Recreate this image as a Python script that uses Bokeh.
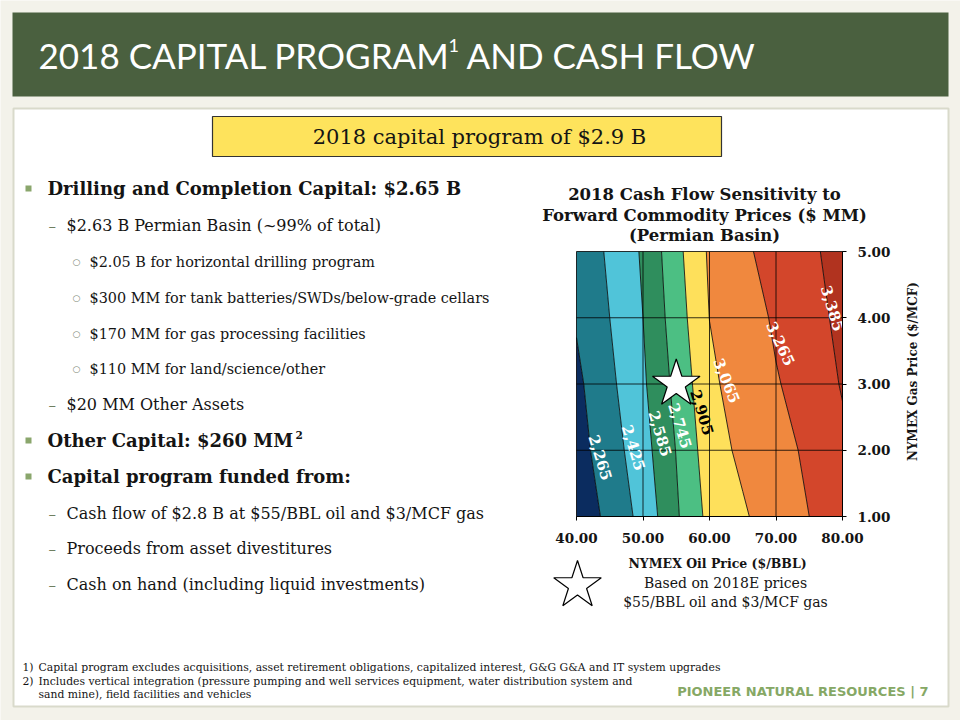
import math
import numpy as np
from bokeh.plotting import figure
from bokeh.plotting.contour import contour_data
from bokeh.models import (Range1d, Label, LinearAxis, FixedTicker, PrintfTickFormatter,
                          ColumnDataSource)
from bokeh.core.properties import value
from bokeh.embed import file_html
from bokeh.resources import INLINE

# ---------------- data ----------------
oil_price = [40, 45, 50, 55, 60, 65, 70, 75, 80]          # $/BBL
gas_price = [1, 2, 3, 4, 5]                               # $/MCF
cash_flow_gas1 = [2157, 2307, 2475, 2724, 2950, 3043, 3154, 3265, 3330]
cash_flow_gas2 = [2204, 2349, 2523, 2750, 2990, 3101, 3215, 3290, 3365]
cash_flow_gas3 = [2230, 2390, 2561, 2788, 3028, 3147, 3254, 3328, 3392]
cash_flow_gas4 = [2280, 2425, 2585, 2825, 3067, 3188, 3287, 3348, 3409]
cash_flow_gas5 = [2306, 2451, 2604, 2857, 3087, 3245, 3307, 3365, 3425]

contour_levels = [2100, 2265, 2425, 2585, 2745, 2905, 3065, 3265, 3385, 3500]
band_colors = ["#0b2c5f", "#1f7b8b", "#50c4d9", "#2f8e5d", "#4cbf83",
               "#fee05b", "#f0883e", "#d3462b", "#b1331f"]

contour_label_text = ["2,265", "2,425", "2,585", "2,745", "2,905", "3,065", "3,265", "3,385"]
contour_label_oil = [43.6, 48.6, 52.6, 55.6, 58.9, 62.6, 70.7, 78.5]
contour_label_gas = [1.89, 2.04, 2.25, 2.37, 2.57, 3.05, 3.61, 4.14]
contour_label_angle = [-73, -73, -73, -73, -73, -68, -65, -73]
contour_label_color = ["white", "white", "white", "white", "black", "white", "white", "white"]

base_case_oil = [55]
base_case_gas = [3]

oil_ticks = [40, 50, 60, 70, 80]
gas_ticks = [1, 2, 3, 4, 5]

bullets_main = [
    ("sq", "Drilling and Completion Capital: $2.65 B", 188),
    ("dash", "$2.63 B Permian Basin (~99% of total)", 225),
    ("circ", "$2.05 B for horizontal drilling program", 261),
    ("circ", "$300 MM for tank batteries/SWDs/below-grade cellars", 297),
    ("circ", "$170 MM for gas processing facilities", 333),
    ("circ", "$110 MM for land/science/other", 368),
    ("dash", "$20 MM Other Assets", 404),
    ("sq", "Other Capital: $260 MM", 440),
    ("sq", "Capital program funded from:", 476),
    ("dash", "Cash flow of $2.8 B at $55/BBL oil and $3/MCF gas", 513),
    ("dash", "Proceeds from asset divestitures", 548),
    ("dash", "Cash on hand (including liquid investments)", 584),
]

# ---------------- layout ----------------
W, H = 960, 720
CH_L, CH_R, CH_T, CH_B = 576, 842, 251, 516   # chart box on the page (px)

p = figure(width=W, height=H, x_range=Range1d(0, W), y_range=Range1d(H, 0),
           output_backend="svg", toolbar_location=None, title=None,
           x_axis_location=None, y_axis_location=None, min_border=0)
p.outline_line_color = None
p.background_fill_color = "#f3f2ea"
p.border_fill_color = "#f3f2ea"
for g in p.grid:
    g.visible = False

# extra ranges so that the oil / gas scales land on the chart box
ox0, ox1 = oil_ticks[0], oil_ticks[-1]
gy0, gy1 = gas_ticks[0], gas_ticks[-1]
kx = (ox1 - ox0) / (CH_R - CH_L)
ky = (gy1 - gy0) / (CH_B - CH_T)
p.extra_x_ranges = {"oil": Range1d(ox0 - CH_L * kx, ox1 + (W - CH_R) * kx)}
p.extra_y_ranges = {"gas": Range1d(gy0 - (H - CH_B) * ky, gy1 + CH_T * ky)}
RN = dict(x_range_name="oil", y_range_name="gas")

SERIF = "DejaVu Serif"


def txt(s, px, py, size, bold=False, font=SERIF, color="#141414", align="left",
        angle=0, baseline="middle"):
    p.add_layout(Label(x=px, y=py, text=s, text_font=font, text_font_size=f"{size}px",
                       text_font_style="bold" if bold else "normal",
                       text_color=color, text_align=align, text_baseline=baseline,
                       angle=angle, angle_units="deg"))


# slide backgrounds
p.quad(left=13, right=948, top=108, bottom=706, fill_color="white",
       line_color="#d9dacb", line_width=2)
p.quad(left=12, right=948, top=12, bottom=96, fill_color="#4a603f", line_color=None)
p.quad(left=212, right=721, top=116, bottom=156, fill_color="#fee35c",
       line_color="#333333", line_width=1.2)

# contour chart
z = np.array([cash_flow_gas1, cash_flow_gas2, cash_flow_gas3, cash_flow_gas4, cash_flow_gas5])
cd = contour_data(oil_price, gas_price, z, contour_levels)
p.multi_polygons(xs=cd.fill_data.xs, ys=cd.fill_data.ys, fill_color=band_colors,
                 line_color=None, **RN)
p.multi_line(xs=cd.line_data.xs, ys=cd.line_data.ys, line_color="black",
             line_width=0.8, **RN)

# grid lines of the chart box
p.segment(x0=oil_ticks, y0=[gy0] * len(oil_ticks), x1=oil_ticks, y1=[gy1] * len(oil_ticks),
          line_color="black", line_width=0.8, **RN)
p.segment(x0=[ox0] * len(gas_ticks), y0=gas_ticks, x1=[ox1] * len(gas_ticks), y1=gas_ticks,
          line_color="black", line_width=0.8, **RN)

lab_src = ColumnDataSource(dict(x=contour_label_oil, y=contour_label_gas,
                                t=contour_label_text, a=contour_label_angle,
                                c=contour_label_color))
p.text(x="x", y="y", text="t", angle="a", angle_units="deg", text_color="c",
       source=lab_src, text_font=value(SERIF), text_font_style="bold",
       text_font_size="15px", text_align="center", text_baseline="middle", **RN)

p.scatter(x=base_case_oil, y=base_case_gas, marker="star", size=50,
          fill_color="white", line_color="black", line_width=1.2, **RN)

xa = LinearAxis(fixed_location=gy0, bounds=(ox0, ox1), **RN)
ya = LinearAxis(fixed_location=ox1, bounds=(gy0, gy1), **RN)
for ax, ticks in ((xa, oil_ticks), (ya, gas_ticks)):
    ax.ticker = FixedTicker(ticks=ticks)
    ax.formatter = PrintfTickFormatter(format="%.2f")
    ax.major_label_text_font = SERIF
    ax.major_label_text_font_style = "bold"
    ax.major_label_text_font_size = "13.5px"
    ax.major_label_text_color = "#141414"
    ax.major_tick_out = 4
    ax.major_tick_in = 0
    ax.minor_tick_out = 0
    ax.minor_tick_in = 0
    ax.axis_line_color = "black"
    ax.major_tick_line_color = "black"
xa.major_label_standoff = 12
ya.major_label_standoff = 11
p.add_layout(xa, "below")
p.add_layout(ya, "right")

# header
txt("2018 CAPITAL PROGRAM", 38, 54, 35, font="Lato", color="white")
txt("1", 448, 45, 18, font="Lato", color="white")
txt("AND CASH FLOW", 466, 54, 35, font="Lato", color="white")

# yellow banner text
txt("2018 capital program of $2.9 B", 479, 136, 21, align="center")

# left bullet list
for kind, s, y in bullets_main:
    if kind == "sq":
        p.quad(left=25, right=31, top=y - 3, bottom=y + 3, fill_color="#8aa66c", line_color=None)
        txt(s, 47, y, 18, bold=True)
    elif kind == "dash":
        txt("\u2013", 48, y, 15, color="#6f7f60")
        txt(s, 66, y, 16)
    else:
        txt("\u25cb", 72, y, 9, font="DejaVu Sans", color="#808a78")
        txt(s, 89, y, 14.4)
txt("2", 295, 434, 10.5, bold=True)

# chart titles and axis labels
for s, y in (("2018 Cash Flow Sensitivity to", 194),
             ("Forward Commodity Prices ($ MM)", 215),
             ("(Permian Basin)", 235)):
    txt(s, 704, y, 16.5, bold=True, align="center")
txt("NYMEX Oil Price ($/BBL)", 717, 563, 12.5, bold=True, align="center")
txt("NYMEX Gas Price ($/MCF)", 912, 371, 12, bold=True, align="center", angle=90)
txt("Based on 2018E prices", 725, 582, 14, align="center")
txt("$55/BBL oil and $3/MCF gas", 725, 601, 14, align="center")

# legend star (outline)
p.scatter(x=[577], y=[585], marker="star", size=50, fill_color="white",
          line_color="black", line_width=1.2)

# footnotes
notes = [("1)", "Capital program excludes acquisitions, asset retirement obligations, capitalized interest, G&G G&A and IT system upgrades", 667),
         ("2)", "Includes vertical integration (pressure pumping and well services equipment, water distribution system and", 681),
         ("", "sand mine), field facilities and vehicles", 694)]
for n, s, y in notes:
    if n:
        txt(n, 22, y, 10.8)
    txt(s, 38, y, 10.8)

txt("PIONEER NATURAL RESOURCES | 7", 928, 691, 13, bold=True, font="DejaVu Sans",
    color="#86a865", align="right")

open("out.html", "w").write(file_html(p, INLINE))
